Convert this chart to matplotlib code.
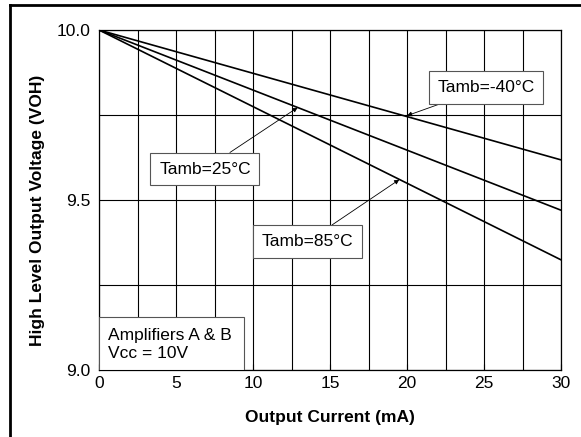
import numpy as np
import matplotlib.pyplot as plt
from matplotlib.lines import Line2D
from matplotlib.patches import Rectangle

plt.rcParams['font.family'] = ['Liberation Sans', 'DejaVu Sans']

# output current (mA) and high level output voltage (V)
current = [0, 30]
voh_m40 = [10.0, 9.618]
voh_25 = [10.0, 9.47]
voh_85 = [10.0, 9.324]

xticks = [0, 5, 10, 15, 20, 25, 30]
yticks = [9.0, 9.5, 10.0]

fs = 12.5

fig = plt.figure(figsize=(5.81, 4.37), dpi=100)
ax = fig.add_axes([99/581, 1 - 370/437, 462/581, 340/437])

ax.plot(current, voh_m40, color='black', lw=1.2)
ax.plot(current, voh_25, color='black', lw=1.2)
ax.plot(current, voh_85, color='black', lw=1.2)

ax.set_xlim(0, 30)
ax.set_ylim(9.0, 10.0)
ax.set_xticks(xticks)
ax.set_yticks(yticks)
ax.set_yticklabels(['9.0', '9.5', '10.0'])
ax.set_xticks(np.arange(0, 30.1, 2.5), minor=True)
ax.set_yticks(np.arange(9.0, 10.01, 0.25), minor=True)
ax.grid(which='both', color='black', lw=0.8)
ax.tick_params(which='minor', length=0)
ax.tick_params(axis='y', which='major', length=0, labelsize=fs, pad=6)
ax.tick_params(axis='x', which='major', direction='in', length=4, labelsize=fs, pad=4)
for s in ax.spines.values():
    s.set_linewidth(0.9)

ax.set_xlabel('Output Current (mA)', fontsize=fs, fontweight='bold', labelpad=14)
ax.set_ylabel('High Level Output Voltage (VOH)', fontsize=fs, fontweight='bold')
ax.yaxis.set_label_coords(-0.116, 0.47)

box = dict(boxstyle='square,pad=0.5', fc='white', ec='#555555', lw=0.8)
arr = dict(arrowstyle='-|>', color='black', lw=0.6, mutation_scale=7, shrinkA=0, shrinkB=0)

ax.annotate('Tamb=-40°C', xy=(20.0, 9.748), xytext=(25.13, 9.831), fontsize=fs,
            ha='center', va='center', bbox=box, arrowprops=arr)
ax.annotate('Tamb=25°C', xy=(12.9, 9.772), xytext=(6.88, 9.591), fontsize=fs,
            ha='center', va='center', bbox=box, arrowprops=arr)
ax.annotate('Tamb=85°C', xy=(19.5, 9.56), xytext=(13.54, 9.378), fontsize=fs,
            ha='center', va='center', bbox=box, arrowprops=arr)

ax.add_patch(Rectangle((0, 9.0), 9.42, 0.156, fc='white', ec='#555555', lw=0.8, zorder=3))
ax.text(0.58, 9.075, 'Amplifiers A & B\nVcc = 10V', fontsize=fs, ha='left', va='center',
        linespacing=1.3, zorder=4)

# frame around the figure
fig.add_artist(Line2D([10/581, 1], [1 - 5/437, 1 - 5/437], color='black', lw=2))
fig.add_artist(Line2D([10/581, 10/581], [0, 1 - 5/437], color='black', lw=2))

fig.savefig('out.png', dpi=100)
